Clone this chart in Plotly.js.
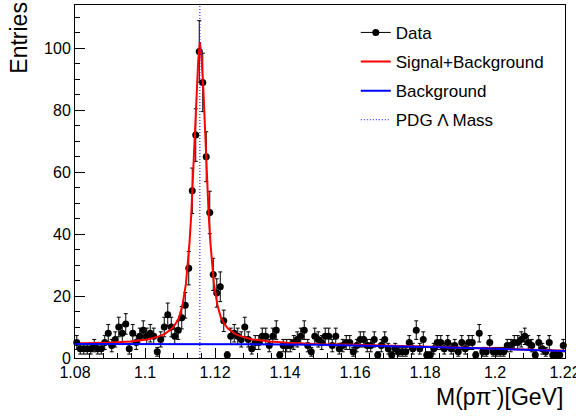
<!DOCTYPE html>
<html>
<head>
<meta charset="utf-8">
<script src="https://cdn.plot.ly/plotly-3.0.1.min.js"></script>
<style>html,body{margin:0;padding:0;background:#fff;}#chart{width:576px;height:416px;}</style>
</head>
<body>
<div id="chart"></div>
<script>
// Histogram binning (1.08 - 1.22 GeV, 140 bins)
const xMin = 1.08;
const binWidth = 0.001;
// Entries per bin
const counts = [
  5,3,3,3,3,4,3,3,5,8, 4,6,10,8,11,3,8,5,7,9,
  7,8,7,2,6,10,14,10,7,9, 13,17,29,54,72,99,89,65,47,27,
  21,23,12,1,7,8,7,6,10,6, 3,5,5,7,7,4,7,9,1,4,
  4,4,5,6,7,9,4,2,7,6, 5,7,7,4,7,3,4,5,5,2,
  4,6,6,4,4,6,1,4,6,3, 1,3,2,2,2,5,3,9,3,6,
  1,1,3,5,5,3,5,3,4,2, 5,3,5,5,1,8,2,2,5,2,
  2,2,2,4,4,5,5,6,7,5, 4,1,5,3,2,5,1,1,1,4
];
// Fit curve: signal + background
const fitX = [1.080,1.0857,1.0907,1.0957,1.1007,1.1037,1.1057,1.1077,1.1087,1.1097,1.1107,1.1117,1.1122,1.1127,1.1132,1.1137,1.1142,1.1147,1.1152,1.1157,
              1.1162,1.1167,1.1172,1.1177,1.1182,1.1187,1.1192,1.1197,1.1207,1.1217,1.1227,1.1237,1.1257,1.1277,1.1307,1.1357,1.1407,1.1457,1.150,1.160,1.170,1.180,1.190,1.200,1.210,1.220];
const fitY = [4.7,4.75,5.0,5.3,6.0,6.9,7.8,9.5,11,13,17,24,30,37,46,58,72,86,96,102,
              96,86,72,58,46,37,30,24,17,13,11,9.5,7.8,6.9,6.0,5.3,4.9,4.6,4.45,4.25,4.0,3.7,3.4,3.05,2.7,2.35];
// Background curve
const bkgX = [1.08,1.10,1.12,1.14,1.15,1.16,1.17,1.18,1.19,1.20,1.21,1.22];
const bkgY = [4.55,4.55,4.5,4.4,4.3,4.1,3.85,3.6,3.3,2.95,2.6,2.25];
// PDG Lambda mass
const pdgMass = [1.115683, 1.115683];
const pdgSpan = [0, 114];
// Axis ticks
const xTickVals = [1.08,1.10,1.12,1.14,1.16,1.18,1.20,1.22];
const xTickText = ["1.08","1.1","1.12","1.14","1.16","1.18","1.2","1.22"];
const yTickVals = [0,20,40,60,80,100];

const centers = counts.map((_, i) => xMin + binWidth * (i + 0.5));
const errs = counts.map(c => Math.sqrt(c));

const FONT = "Liberation Sans, Arial, sans-serif";

const traces = [
  {x: centers, y: counts, type: 'scatter', mode: 'markers', showlegend: false,
   marker: {color: '#000', size: 7},
   error_y: {type: 'data', array: errs, visible: true, color: '#000', thickness: 1, width: 2},
   cliponaxis: false},
  {x: [null], y: [null], type: 'scatter', mode: 'lines+markers', name: 'Data',
   line: {color: '#000', width: 1}, marker: {color: '#000', size: 7}, legendgroup: 'a', legendrank: 1},
  {x: fitX, y: fitY, type: 'scatter', mode: 'lines', name: 'Signal+Background',
   line: {color: '#ff0000', width: 2}, legendgroup: 'b', legendrank: 2},
  {x: bkgX, y: bkgY, type: 'scatter', mode: 'lines', name: 'Background',
   line: {color: '#0000ff', width: 2}, legendgroup: 'c', legendrank: 3},
  {x: pdgMass, y: pdgSpan, type: 'scatter', mode: 'lines', name: 'PDG &#923; Mass',
   line: {color: '#0000ff', width: 1, dash: '1px,2px'}, legendgroup: 'd', legendrank: 4}
];

const layout = {
  width: 576, height: 416,
  margin: {l: 75, r: 11, t: 5, b: 58},
  paper_bgcolor: '#fff', plot_bgcolor: '#fff',
  font: {family: FONT, color: '#000', size: 17},
  showlegend: true,
  legend: {x: 0.573, y: 0.972, xanchor: 'left', yanchor: 'top', bgcolor: 'rgba(0,0,0,0)',
           borderwidth: 0, font: {family: FONT, size: 17, color: '#000'},
           traceorder: 'grouped', tracegroupgap: 4},
  xaxis: {range: [1.08, 1.22], tickmode: 'array', tickvals: xTickVals, ticktext: xTickText,
          ticks: 'inside', ticklen: 10, tickcolor: '#000', tickwidth: 1,
          showline: true, mirror: true, linecolor: '#000', linewidth: 1,
          showgrid: false, zeroline: false, ticklabeloverflow: 'allow',
          minor: {ticks: 'inside', ticklen: 5, dtick: 0.004, tick0: 1.08, tickcolor: '#000', showgrid: false},
          tickfont: {family: FONT, size: 16, color: '#000'}},
  yaxis: {range: [0, 114], tickmode: 'array', tickvals: yTickVals,
          ticks: 'inside', ticklen: 10, tickcolor: '#000', tickwidth: 1,
          showline: true, mirror: true, linecolor: '#000', linewidth: 1,
          showgrid: false, zeroline: false,
          minor: {ticks: 'inside', ticklen: 5, dtick: 5, tick0: 0, tickcolor: '#000', showgrid: false},
          tickfont: {family: FONT, size: 16, color: '#000'}},
  annotations: [
    {text: 'Entries', xref: 'paper', yref: 'paper', x: -0.115, y: 1.014, xanchor: 'center', yanchor: 'top',
     textangle: -90, showarrow: false, font: {family: FONT, size: 23, color: '#000'}},
    {text: 'M(p&#960;<sup>-</sup>)[GeV]', xref: 'paper', yref: 'paper', x: 1.0, y: -0.106, xanchor: 'right', yanchor: 'middle',
     showarrow: false, font: {family: FONT, size: 23, color: '#000'}}
  ]
};

Plotly.newPlot('chart', traces, layout, {displayModeBar: false, staticPlot: true});
</script>
</body>
</html>
